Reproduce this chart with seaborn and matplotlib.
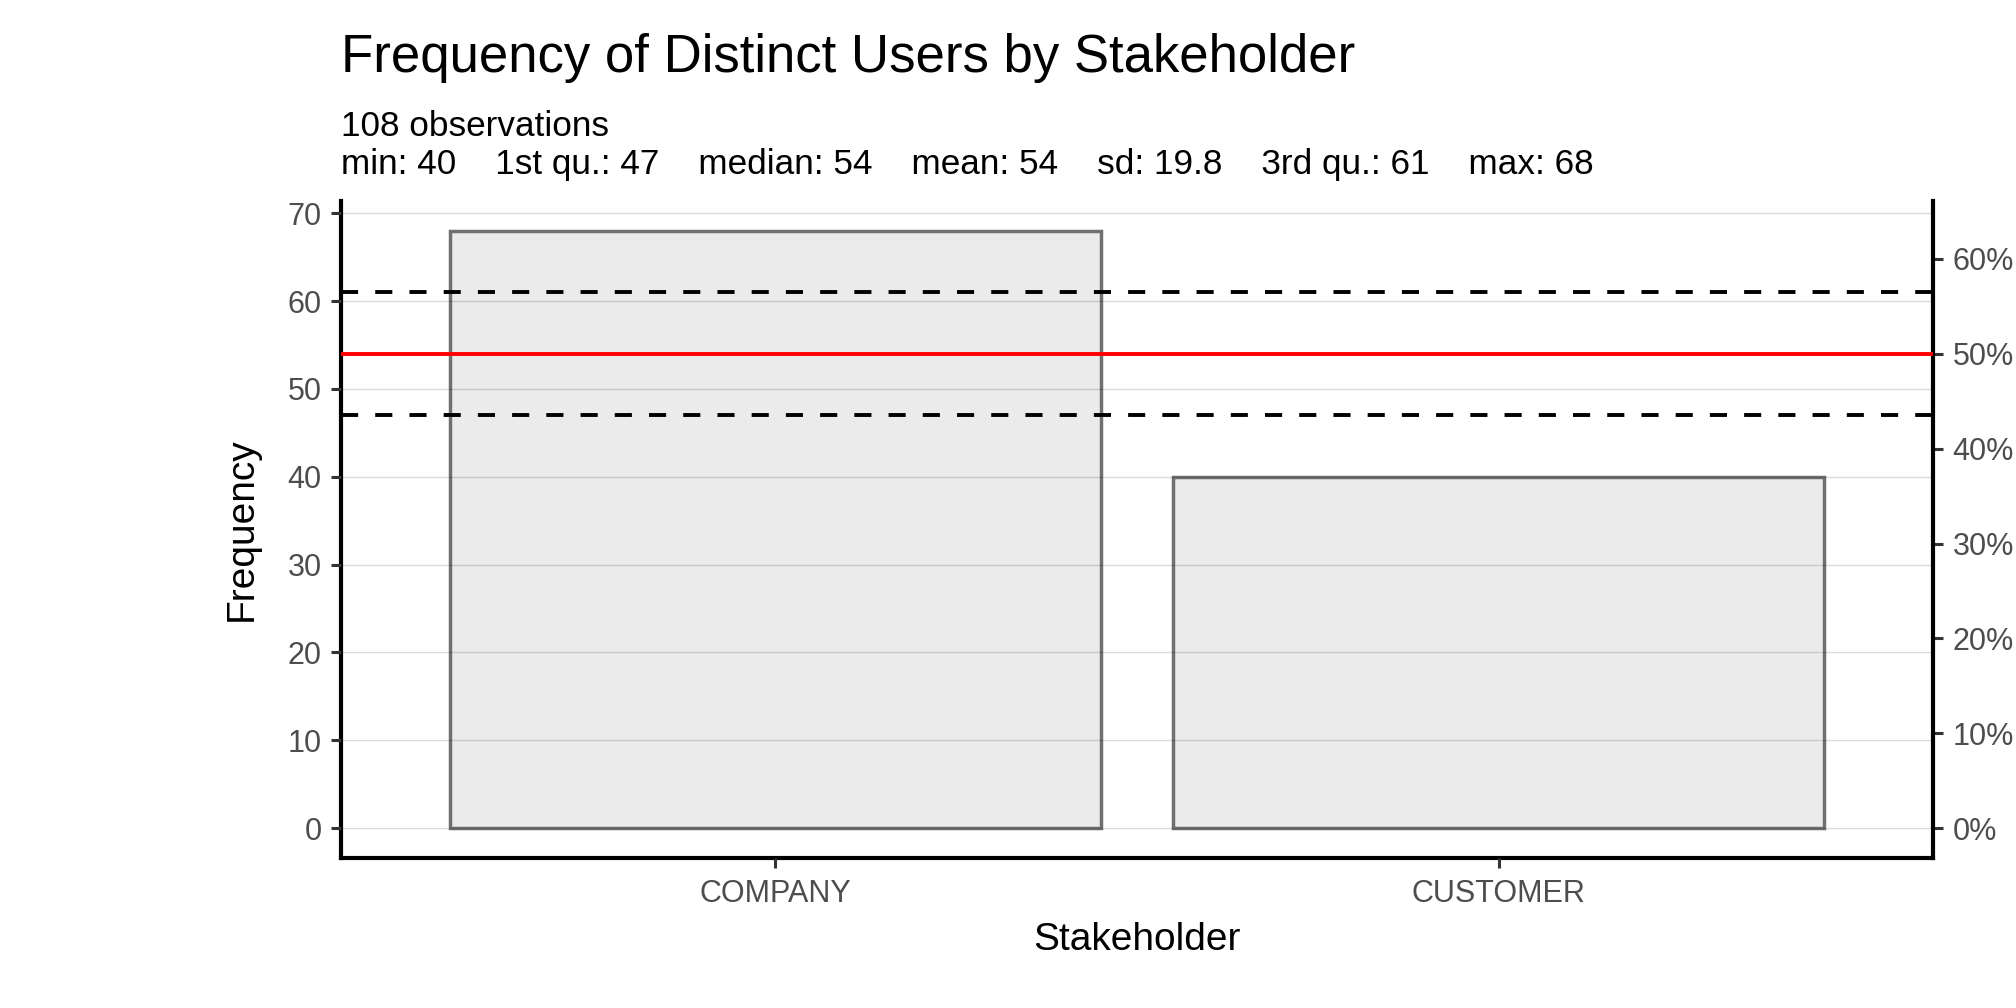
import matplotlib
matplotlib.use("Agg")
import matplotlib.pyplot as plt
import seaborn as sns
import pandas as pd
from matplotlib.ticker import FuncFormatter, FixedLocator

# ---- data ----
categories = ["COMPANY", "CUSTOMER"]
frequencies = [68, 40]
total_obs = 108
stat_names = ["min", "1st qu.", "median", "mean", "sd", "3rd qu.", "max"]
stat_values = ["40", "47", "54", "54", "19.8", "61", "68"]
mean_value = 54
q1_value = 47
q3_value = 61
y_ticks = [0, 10, 20, 30, 40, 50, 60, 70]
pct_ticks = [0, 10, 20, 30, 40, 50, 60]

sns.set_theme(style="white")
plt.rcParams["font.family"] = ["Liberation Sans", "DejaVu Sans"]

df = pd.DataFrame({"Stakeholder": categories, "Frequency": frequencies})

W, H = 2016, 1008
L, R, T, B = 341, 1933, 201, 858
fig = plt.figure(figsize=(W / 100, H / 100), dpi=100)
ax = fig.add_axes([L / W, 1 - B / H, (R - L) / W, (B - T) / H])

sns.barplot(data=df, x="Stakeholder", y="Frequency", ax=ax, width=0.9,
            color="#EBEBEB", edgecolor="#707070", linewidth=2.5,
            saturation=1, errorbar=None, zorder=2)

ax.set_xlim(-0.6, 1.6)
ax.set_ylim(-3.4, 71.4)
ax.set_yticks(y_ticks)

# gridlines on top of bars (semi-transparent)
ax.yaxis.grid(True, color="black", alpha=0.14, linewidth=1.0, zorder=3)
ax.xaxis.grid(False)
ax.set_axisbelow(False)

ax.axhline(mean_value, color="#FF0000", linewidth=2.8, zorder=5)
ax.axhline(q1_value, color="black", linewidth=2.8, linestyle=(0, (4.4, 4.4)), zorder=5)
ax.axhline(q3_value, color="black", linewidth=2.8, linestyle=(0, (4.4, 4.4)), zorder=5)

ax.spines["top"].set_visible(False)
ax.spines["right"].set_visible(False)
for s in ["left", "bottom"]:
    ax.spines[s].set_color("black")
    ax.spines[s].set_linewidth(3.0)

ax.tick_params(axis="both", which="major", length=7, width=2.2, color="#333333",
               labelcolor="#4D4D4D", labelsize=22, left=True, bottom=True, pad=7)
ax.tick_params(axis="x", pad=8)

ax.set_xlabel("Stakeholder", fontsize=28, color="black")
ax.set_ylabel("Frequency", fontsize=28, color="black")
ax.xaxis.label.set_va("center")
ax.yaxis.label.set_va("center")
ax.xaxis.set_label_coords(0.5, (B - 940) / (B - T))
ax.yaxis.set_label_coords((242 - L) / (R - L), 0.5)

sec = ax.secondary_yaxis("right", functions=(lambda y: y / total_obs * 100,
                                              lambda p: p * total_obs / 100))
sec.yaxis.set_major_locator(FixedLocator(pct_ticks))
sec.yaxis.set_major_formatter(FuncFormatter(lambda v, p: f"{v:.0f}%"))
sec.spines["right"].set_color("black")
sec.spines["right"].set_linewidth(3.0)
sec.tick_params(axis="y", length=7, width=2.2, color="#333333",
                labelcolor="#4D4D4D", labelsize=22, pad=7)

fig.text(L / W, 1 - 72 / H, "Frequency of Distinct Users by Stakeholder",
         fontsize=38, color="black", ha="left", va="baseline")
fig.text(L / W, 1 - 136 / H, f"{total_obs} observations",
         fontsize=25.3, color="black", ha="left", va="baseline")
sub2 = "    ".join(f"{n}: {v}" for n, v in zip(stat_names, stat_values))
fig.text(L / W, 1 - 174 / H, sub2,
         fontsize=25.3, color="black", ha="left", va="baseline")

fig.savefig("out.png", dpi=100, facecolor="white")
